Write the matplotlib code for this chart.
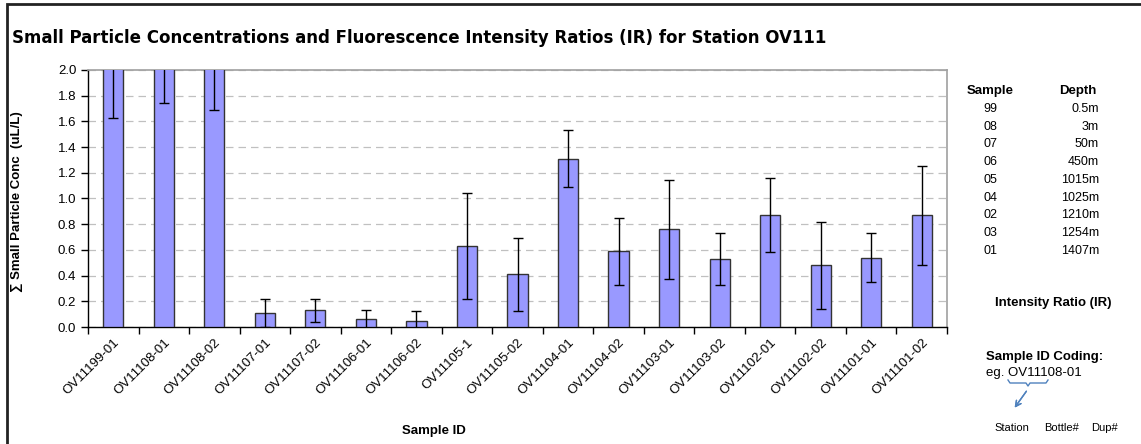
import numpy as np
import matplotlib.pyplot as plt
import matplotlib.transforms as mtransforms
from matplotlib.patches import Rectangle
from matplotlib.lines import Line2D

plt.rcParams['font.family'] = ['Liberation Sans', 'DejaVu Sans']

# data (first three bars run off the top, values estimated)
sample_ids = ['OV11199-01', 'OV11108-01', 'OV11108-02', 'OV11107-01', 'OV11107-02',
              'OV11106-01', 'OV11106-02', 'OV11105-1', 'OV11105-02', 'OV11104-01',
              'OV11104-02', 'OV11103-01', 'OV11103-02', 'OV11102-01', 'OV11102-02',
              'OV11101-01', 'OV11101-02']
conc = [2.25, 2.30, 2.30, 0.11, 0.13, 0.06, 0.05, 0.63, 0.41, 1.31,
        0.59, 0.76, 0.53, 0.87, 0.48, 0.54, 0.87]
conc_err = [0.62, 0.56, 0.61, 0.11, 0.09, 0.07, 0.075, 0.41, 0.285, 0.22,
            0.26, 0.385, 0.205, 0.29, 0.34, 0.19, 0.385]

table_samples = ['99', '08', '07', '06', '05', '04', '02', '03', '01']
table_depths = ['0.5m', '3m', '50m', '450m', '1015m', '1025m', '1210m', '1254m', '1407m']

W, H = 1141, 444
fig = plt.figure(figsize=(W / 100, H / 100), dpi=100)


def fx(px):
    return px / W


def fy(py):
    # image pixel row -> figure fraction
    return 1 - py / H


ax = fig.add_axes([fx(88), fy(327), fx(947) - fx(88), fy(70) - fy(327)])

x = np.arange(len(sample_ids))
ax.bar(x, conc, width=0.4, color='#9999ff', edgecolor='#333333', linewidth=1.0, zorder=3)
ax.errorbar(x, conc, yerr=conc_err, fmt='none', ecolor='black', elinewidth=1.0,
            capsize=3.5, capthick=1.0, zorder=4)

ax.set_xlim(-0.5, len(sample_ids) - 0.5)
ax.set_ylim(0, 2.0)
yt = np.arange(0, 2.01, 0.2)
ax.set_yticks(yt)
ax.set_yticklabels(['%.1f' % v for v in yt], fontsize=9.5)

# category boundaries get the tick marks, labels sit under the bars
ax.set_xticks(np.arange(-0.5, len(sample_ids), 1.0))
ax.set_xticklabels([])
ax.set_xticks(x, minor=True)
ax.set_xticklabels(sample_ids, minor=True, rotation=45, ha='right', va='top',
                   rotation_mode='anchor', fontsize=9.5)
shift = mtransforms.ScaledTranslation(-4 / 100, 0, fig.dpi_scale_trans)
for lab in ax.get_xticklabels(minor=True):
    lab.set_transform(lab.get_transform() + shift)
ax.tick_params(axis='x', which='minor', length=0, pad=7)
ax.tick_params(axis='both', which='major', direction='out', length=5, width=1, color='black')

ax.yaxis.grid(True, linestyle=(0, (6, 4)), color='#c0c0c0', linewidth=0.9, zorder=0)
ax.set_axisbelow(True)

for side in ['top', 'right']:
    ax.spines[side].set_color('#a0a0a0')
    ax.spines[side].set_linewidth(1.2)
for side in ['left', 'bottom']:
    ax.spines[side].set_color('black')
    ax.spines[side].set_linewidth(1.0)

fig.text(fx(17), fy(202), '\u2211 Small Particle Conc  (uL/L)', rotation=90, fontsize=9.5,
         fontweight='bold', ha='center', va='center')

fig.text(fx(434), fy(431), 'Sample ID', fontsize=9.5, fontweight='bold', ha='center', va='center')

fig.text(fx(12), fy(38), 'Small Particle Concentrations and Fluorescence Intensity Ratios (IR) for Station OV111',
         fontsize=12, fontweight='bold', ha='left', va='center', family='DejaVu Sans')

# sample / depth table on the right
fig.text(fx(990), fy(91), 'Sample', fontsize=9.5, fontweight='bold', ha='center', va='center')
fig.text(fx(1078), fy(91), 'Depth', fontsize=9.5, fontweight='bold', ha='center', va='center')
for i, (s, d) in enumerate(zip(table_samples, table_depths)):
    yy = 109 + i * 17.7
    fig.text(fx(990), fy(yy), s, fontsize=9, ha='center', va='center')
    fig.text(fx(1099), fy(yy), d, fontsize=9, ha='right', va='center')

fig.text(fx(1053), fy(303), 'Intensity Ratio (IR)', fontsize=9.5, fontweight='bold', ha='center', va='center')

fig.text(fx(986), fy(357), 'Sample ID Coding:', fontsize=9.5, fontweight='bold', ha='left', va='center')
fig.text(fx(986), fy(373), 'eg. OV11108-01', fontsize=9.5, ha='left', va='center')

# brace under "OV111" and arrow to "Station"
brace_x = [1008, 1010, 1026, 1028, 1030, 1046, 1048]
brace_y = [380, 383, 383, 386, 383, 383, 380]
fig.add_artist(Line2D([fx(v) for v in brace_x], [fy(v) for v in brace_y],
                      color='#4f81bd', linewidth=1.0, transform=fig.transFigure))
fig.add_artist(plt.annotate('', xy=(1013, H - 410), xytext=(1028, H - 389), xycoords='figure pixels',
                            textcoords='figure pixels',
                            arrowprops=dict(arrowstyle='->', color='#4f81bd', lw=1.0)))

fig.text(fx(1012), fy(428), 'Station', fontsize=8, ha='center', va='center')
fig.text(fx(1062), fy(428), 'Bottle#', fontsize=8, ha='center', va='center')
fig.text(fx(1105), fy(428), 'Dup#', fontsize=8, ha='center', va='center')

# outer chart border (runs off the right and bottom edges)
fig.add_artist(Rectangle((7, -20), W + 20, H - 4 + 20, transform=None, fill=False,
                         edgecolor='#222222', linewidth=2.0))

fig.savefig('out.png', dpi=100)
